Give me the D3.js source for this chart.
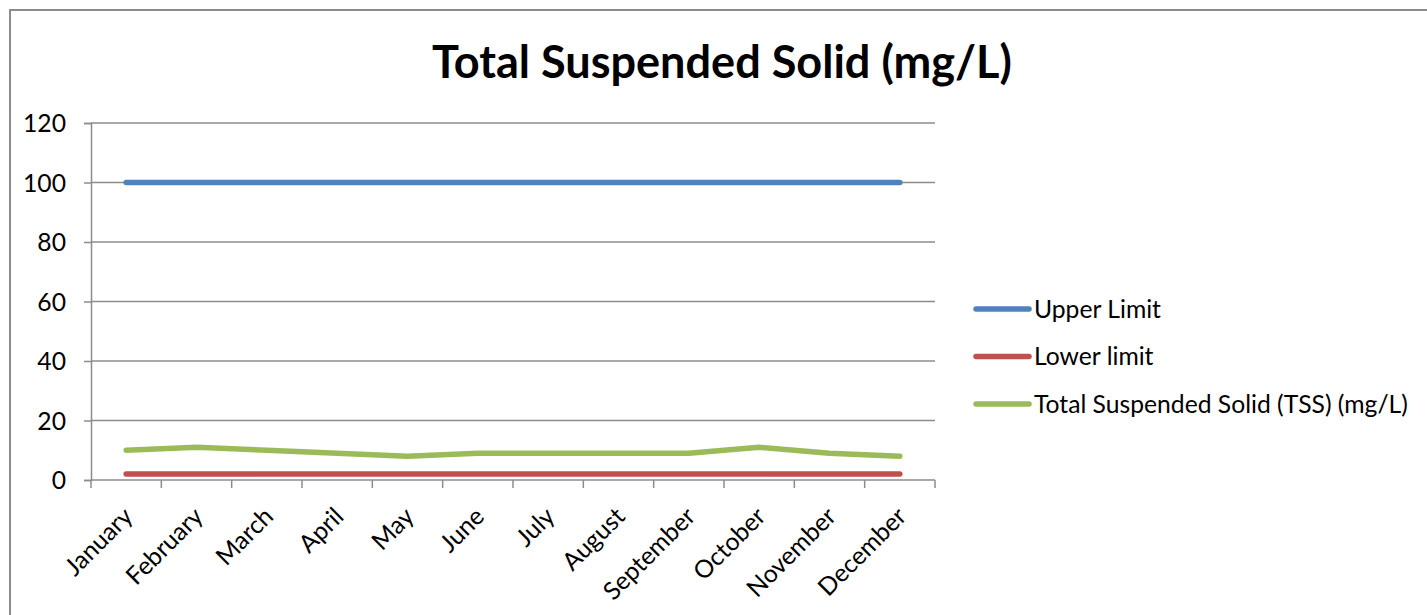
<!DOCTYPE html>
<html>
<head>
<meta charset="utf-8">
<script src="https://cdn.jsdelivr.net/npm/d3@7"></script>
<style>
  body { margin: 0; background: #fff; }
  text { font-family: Lato, "Open Sans", sans-serif; fill: #000; }
</style>
</head>
<body>
<script>
// ---------------------- DATA ----------------------
const months = ["January", "February", "March", "April", "May", "June",
                "July", "August", "September", "October", "November", "December"];
const upperLimit = [100, 100, 100, 100, 100, 100, 100, 100, 100, 100, 100, 100];
const lowerLimit = [2, 2, 2, 2, 2, 2, 2, 2, 2, 2, 2, 2];
const tss = [10, 11, 10, 9, 8, 9, 9, 9, 9, 11, 9, 8];
const yTicks = [0, 20, 40, 60, 80, 100, 120];

const seriesNames = ["Upper Limit", "Lower limit", "Total Suspended Solid (TSS) (mg/L)"];
const seriesColors = ["#4f81bd", "#c0504d", "#9bbb59"];
const seriesValues = [upperLimit, lowerLimit, tss];

const titleText = "Total Suspended Solid (mg/L)";

// ---------------------- LAYOUT ----------------------
const width = 1427, height = 615;
const plot = { left: 91, right: 935, top: 123, bottom: 480 };

const svg = d3.select("body").append("svg")
    .attr("width", width)
    .attr("height", height);

/**
 * Pick a font size so a string comes out at the wanted width
 */
function fitSize(str, targetWidth, weight) {
    const probe = svg.append("text")
        .style("font-size", "100px")
        .style("font-weight", weight || "normal")
        .text(str);
    const w = probe.node().getComputedTextLength();
    probe.remove();
    return 100 * targetWidth / w;
}

const labelSize = fitSize("Total Suspended Solid (TSS) (mg/L)", 374);
const titleSize = fitSize(titleText, 580, "bold");

// outer chart frame
svg.append("rect")
    .attr("x", 10).attr("y", 10)
    .attr("width", 1440).attr("height", 640)
    .attr("fill", "none")
    .attr("stroke", "#8c8c8c")
    .attr("stroke-width", 2);

const x = d3.scaleBand().domain(months).range([plot.left, plot.right]);
const y = d3.scaleLinear().domain([0, 120]).range([plot.bottom, plot.top]);

// title
svg.append("text")
    .attr("x", 722).attr("y", 78)
    .attr("text-anchor", "middle")
    .style("font-weight", "bold")
    .style("font-size", titleSize + "px")
    .text(titleText);

// gridlines
svg.append("g")
    .selectAll("line")
    .data(yTicks.filter(d => d > 0))
    .join("line")
    .attr("x1", plot.left).attr("x2", plot.right)
    .attr("y1", d => y(d)).attr("y2", d => y(d))
    .attr("stroke", "#8c8c8c")
    .attr("stroke-width", 1.5);

// y axis
const yAxis = svg.append("g")
    .attr("transform", `translate(${plot.left},0)`)
    .call(d3.axisLeft(y).tickValues(yTicks).tickSize(7).tickPadding(18));
yAxis.select(".domain").attr("stroke", "#8c8c8c").attr("stroke-width", 1.5);
yAxis.selectAll(".tick line").attr("stroke", "#8c8c8c").attr("stroke-width", 1.5);
yAxis.selectAll(".tick text")
    .style("font-family", "Lato, sans-serif")
    .style("font-size", labelSize + "px")
    .attr("dy", "0.35em");

// x axis: ticks at band boundaries
const xAxis = svg.append("g")
    .attr("transform", `translate(0,${plot.bottom})`);
xAxis.append("line")
    .attr("x1", plot.left).attr("x2", plot.right)
    .attr("stroke", "#8c8c8c").attr("stroke-width", 1.5);
const boundaries = months.map(m => x(m)).concat([plot.right]);
xAxis.selectAll(".xtick")
    .data(boundaries)
    .join("line")
    .attr("class", "xtick")
    .attr("x1", d => d).attr("x2", d => d)
    .attr("y1", 0).attr("y2", 8)
    .attr("stroke", "#8c8c8c").attr("stroke-width", 1.5);
xAxis.selectAll(".xlabel")
    .data(months)
    .join("text")
    .attr("class", "xlabel")
    .attr("text-anchor", "end")
    .attr("transform", d => `translate(${x(d) + x.bandwidth() / 2 + 8},${38}) rotate(-45)`)
    .style("font-size", labelSize + "px")
    .text(d => d);

// series lines
const line = d3.line()
    .x((d, i) => x(months[i]) + x.bandwidth() / 2)
    .y(d => y(d));

svg.append("g")
    .selectAll("path")
    .data(seriesValues)
    .join("path")
    .attr("d", d => line(d))
    .attr("fill", "none")
    .attr("stroke", (d, i) => seriesColors[i])
    .attr("stroke-width", 5.5)
    .attr("stroke-linecap", "round")
    .attr("stroke-linejoin", "round");

// legend
const legend = svg.append("g")
    .selectAll("g")
    .data(seriesNames)
    .join("g")
    .attr("transform", (d, i) => `translate(976,${309 + i * 47.5})`);
legend.append("line")
    .attr("x1", 0).attr("x2", 53)
    .attr("stroke", (d, i) => seriesColors[i])
    .attr("stroke-width", 5.5)
    .attr("stroke-linecap", "round");
legend.append("text")
    .attr("x", 58)
    .attr("dy", "0.35em")
    .style("font-size", labelSize + "px")
    .text(d => d);
</script>
</body>
</html>
